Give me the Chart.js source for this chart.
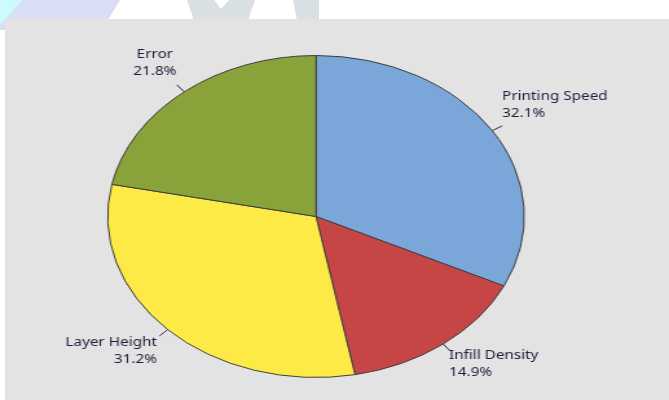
<!DOCTYPE html>
<html>
<head>
<meta charset="utf-8">
<script src="https://cdn.jsdelivr.net/npm/chart.js@4.4.1/dist/chart.umd.min.js"></script>
<style>
  html, body { margin:0; padding:0; background:#fff; }
  #page { position:relative; width:669px; height:400px; overflow:hidden; background:#fff; }
  .wm { position:absolute; }
  #panel { position:absolute; left:5px; top:19px; right:0; bottom:0; background:#e3e3e3; }
  #wrap { position:absolute; left:0; top:0; width:517px; height:400px; transform-origin:0 0; }
</style>
</head>
<body>
<div id="page">
  <!-- faint background shapes behind the panel -->
  <div class="wm" style="left:0;top:0;width:120px;height:30px;background:#d9def6;clip-path:polygon(0 0,100% 0,85% 100%,0 100%)"></div>
  <div class="wm" style="left:0;top:0;width:22px;height:25px;background:#ccfbfb;clip-path:polygon(0 0,100% 0,0 100%)"></div>
  <div class="wm" style="left:187px;top:0;width:68px;height:20px;background:#d8e0e4;clip-path:polygon(0 0,40% 0,50% 45%,62% 0,100% 0,90% 100%,10% 100%)"></div>
  <div class="wm" style="left:293px;top:0;width:26px;height:20px;background:#d8e0e4;clip-path:polygon(0 0,100% 0,100% 100%,15% 100%)"></div>
  <div id="panel"></div>
  <div id="wrap"><canvas id="pie" width="517" height="400"></canvas></div>
</div>
<script>
const labels  = ['Printing Speed', 'Infill Density', 'Layer Height', 'Error'];
const values  = [32.1, 14.9, 31.2, 21.8];
const colors  = ['#7ba6d9', '#c64646', '#feea47', '#89a33a'];

// the picture is stretched sideways, so the whole chart is drawn narrow and scaled in x
const STRETCH = 1.294;
document.getElementById('wrap').style.transform = `scaleX(${STRETCH})`;

// where each label sits relative to the end of its leader line (in unscaled px)
const labelPos = [
  { dx: 0,   dy: -29, align: 'left'   },
  { dx: -1,  dy: 4,   align: 'left'   },
  { dx: -2,  dy: 7,   align: 'right'  },
  { dx: -17, dy: -30, align: 'center' },
];

const leaderLabels = {
  id: 'leaderLabels',
  afterDatasetsDraw(chart) {
    const { ctx } = chart;
    const meta = chart.getDatasetMeta(0);
    ctx.save();
    ctx.font = '11.8px "Noto Sans", "Open Sans", sans-serif';
    ctx.textBaseline = 'middle';
    meta.data.forEach((arc, i) => {
      const mid = (arc.startAngle + arc.endAngle) / 2;
      const r = arc.outerRadius;
      const x0 = arc.x + Math.cos(mid) * r,       y0 = arc.y + Math.sin(mid) * r;
      const x1 = arc.x + Math.cos(mid) * (r + 9), y1 = arc.y + Math.sin(mid) * (r + 9);
      ctx.strokeStyle = '#2b2b2b';
      ctx.lineWidth = 1;
      ctx.beginPath(); ctx.moveTo(x0, y0); ctx.lineTo(x1, y1); ctx.stroke();

      const p = labelPos[i];
      ctx.fillStyle = '#1e1e3c';
      ctx.textAlign = p.align;
      const tx = x1 + p.dx, ty = y1 + p.dy;
      ctx.fillText(labels[i], tx, ty);
      ctx.fillText(values[i].toFixed(1) + '%', tx, ty + 17);
    });
    ctx.restore();
  }
};

new Chart(document.getElementById('pie'), {
  type: 'pie',
  data: {
    labels,
    datasets: [{
      data: values,
      backgroundColor: colors,
      borderColor: '#3e3e3e',
      borderWidth: 1,
      radius: 161,
    }]
  },
  options: {
    responsive: false,
    devicePixelRatio: 1,
    animation: false,
    layout: { padding: { left: 0, right: 28.6, top: 33, bottom: 0 } },
    plugins: { legend: { display: false }, tooltip: { enabled: false } },
  },
  plugins: [leaderLabels],
});
</script>
</body>
</html>
